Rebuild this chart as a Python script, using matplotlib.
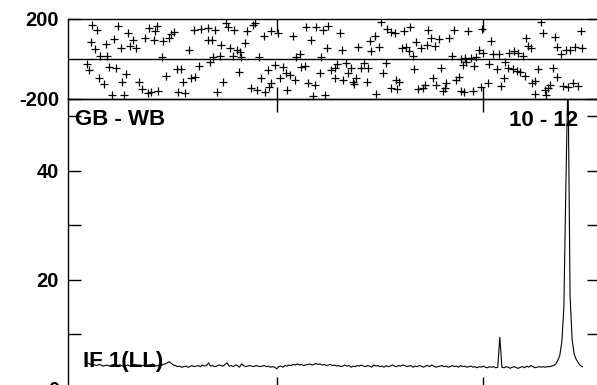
import matplotlib
matplotlib.use("Agg")
import matplotlib.pyplot as plt
import numpy as np

plt.rcParams["font.family"] = ["Liberation Sans", "DejaVu Sans"]
plt.rcParams["font.weight"] = "bold"
plt.rcParams["axes.unicode_minus"] = False

# phase points (channel, degrees)
phase_chan = [
    10.6, 13.2, 23.2, 28.0, 38.2, 42.2, 41.3, 50.3, 49.0, 60.0, 63.2, 10.3, 11.9, 17.2, 21.3, 24.5,
    30.5, 28.9, 32.1, 36.1, 40.6, 45.0, 47.7, 14.3, 18.0, 44.6, 57.4, 8.3, 9.0, 18.7, 22.4, 27.2,
    13.9, 16.4, 25.1, 33.2, 34.8, 37.7, 39.3, 42.6, 20.3, 26.1, 46.6, 51.9, 53.8, 54.7, 58.4, 60.3,
    62.4, 52.2, 55.5,
    66.8, 70.0, 75.6, 76.4, 79.3, 85.8, 88.5, 89.4, 93.9, 97.1, 100.6, 107.9, 114.3, 119.2, 122.4,
    124.8, 66.8, 68.7, 73.2, 77.3, 80.9, 84.5, 82.1, 116.5, 124.5, 69.2, 72.4, 78.9, 82.9, 91.3,
    109.2, 111.1, 121.6, 67.6, 81.6, 74.0, 71.3, 95.8, 99.3, 103.1, 104.7, 92.6, 101.5, 106.3,
    108.7, 97.4, 96.1, 87.7, 90.6, 94.2, 105.1, 111.6, 113.6, 120.8, 115.2, 118.4, 117.6, 123.2,
    126.4,
    130.5, 150.6, 153.5, 155.2, 157.1, 161.6, 164.4, 173.2, 185.8, 147.4, 145.0, 174.8, 178.6,
    183.3, 167.6, 169.7, 172.8, 176.5, 131.6, 139.4, 145.8, 149.5, 160.7, 162.7, 164.0, 166.0,
    184.9, 128.1, 129.3, 133.7, 135.8, 142.3, 141.0, 144.2, 153.1, 128.4, 132.1, 134.5, 136.9,
    138.5, 137.4, 143.9, 151.5, 166.5, 179.7, 175.7, 157.9, 159.1, 155.5, 158.4, 148.2, 168.4,
    170.8, 171.9, 177.3, 182.1, 181.3, 180.5, 186.9, 188.1, 189.1,
    192.6, 199.4, 203.6, 228.1, 228.9, 220.8, 234.9, 247.1, 221.6, 222.9, 235.8, 240.2, 241.8,
    244.5, 247.8, 237.8, 197.8, 199.9, 204.7, 207.5, 212.3, 214.9, 216.8, 219.2, 196.6, 194.2,
    191.3, 189.4, 191.8, 190.2, 195.5, 202.6, 210.4, 206.8, 212.0, 214.4, 216.5, 217.6, 220.3,
    226.5, 233.7, 235.8, 210.0, 208.7, 202.3, 198.7, 195.0, 190.7, 225.2, 223.6, 232.1, 231.3,
    230.0, 224.9, 230.5, 238.6, 241.0, 243.4, 245.8,
]
phase_deg = [
    170, 145, 165, 131, 156, 166, 140, 136, 123, 145, 148, 86, 50, 74, 100, 54,
    94, 65, 56, 106, 94, 90, 106, 14, 14, 9, 44, -27, -55, -38, -43, -76,
    -96, -125, -113, -116, -150, -171, -163, -160, -180, -180, -85, -50, -50, -116, -93, -91,
    -33, -166, -171,
    156, 145, 178, 161, 145, 140, 170, 178, 116, 141, 128, 116, 161, 158, 145,
    166, 95, 95, 70, 54, 45, 78, 36, 95, 56, 12, 16, 16, 12, 8,
    12, 24, 12, -16, -63, -116, -166, -55, -30, -38, -71, -96, -96, -80,
    -105, -121, -138, -146, -155, -166, -155, -38, -33, -71, -121, -130, -183, -180,
    -55,
    128, 183, 148, 136, 128, 140, 158, 145, 145, 115, 90, 103, 98,
    106, 86, 54, 70, 66, 45, 61, 40, 58, 54, 61, 40, 16,
    16, -46, -26, -21, -43, -21, -46, -46, -18, -93, -105, -71, -113,
    -96, -126, -113, -71, -51, -46, -93, -105, -113, -146, -150, -176, -150,
    -143, -130, -130, -121, -143, -160, -105, -88, -160,
    140, 150, 90, 183, 128, 106, 111, 140, 66, 56, 61, 45, 45,
    61, 56, 24, 45, 28, 24, 24, 28, 40, 28, 16, 12, 6,
    4, 0, -13, -30, -33, -26, -13, -50, -43, -50, -60, -66, -83,
    -50, -43, -88, -93, -133, -121, -138, -160, -163, -110, -121, -130, -143,
    -155, -176, -180, -133, -138, -121, -133,
]

# amplitude spectrum, channels 8..248
amp_first_chan = 8
amplitude = [
    4.8, 4.7, 4.5, 4.6, 4.4, 4.3, 4.5, 4.4, 4.2, 4.3, 4.4, 4.2, 4.3, 4.5, 4.3, 4.2, 4.4, 4.3, 4.1, 4.3,
    4.4, 4.2, 4.3, 4.5, 4.4, 4.2, 4.1, 4.3, 4.4, 4.2, 4.3, 4.4, 4.6, 4.3, 4.2, 4.4, 4.3, 4.5, 4.6, 4.8,
    5.0, 4.7, 4.4, 4.3, 4.1, 4.2, 4.0, 4.1, 4.2, 4.0, 4.1, 4.3, 4.1, 4.2, 4.3, 4.1, 4.4, 4.2, 4.3, 4.8,
    4.2, 4.3, 4.1, 4.2, 4.4, 4.3, 4.2, 4.5, 4.8, 4.2, 4.3, 4.1, 4.4, 4.3, 4.0, 4.6, 4.3, 4.1, 4.2, 4.3,
    4.2, 4.1, 4.3, 4.2, 4.1, 4.2, 4.3, 4.1, 4.2, 4.0, 4.1, 4.0, 3.7, 4.1, 4.2, 4.0, 4.3, 4.2, 4.4, 4.3,
    4.5, 4.4, 4.6, 4.4, 4.5, 4.3, 4.4, 4.5, 4.6, 4.4, 4.5, 4.7, 4.5, 4.6, 4.4, 4.5, 4.3, 4.4, 4.5, 4.3,
    4.4, 4.2, 4.3, 4.1, 4.2, 4.4, 4.2, 4.3, 4.0, 4.2, 4.1, 4.3, 4.2, 4.4, 4.2, 4.1, 4.3, 4.2, 4.0, 4.4,
    4.2, 4.3, 4.1, 4.2, 4.0, 4.3, 4.1, 4.2, 4.4, 4.2, 4.1, 4.3, 4.2, 4.4, 4.3, 4.1, 4.2, 4.3, 4.0, 4.2,
    4.1, 4.3, 4.2, 4.0, 4.2, 4.3, 4.1, 4.4, 4.2, 4.0, 4.1, 4.2, 4.3, 4.1, 4.2, 4.0, 4.1, 4.3, 4.1, 4.2,
    4.0, 4.3, 4.1, 4.2, 4.0, 4.1, 4.2, 4.0, 4.1, 3.9, 4.1, 4.0, 4.2, 4.0, 3.9, 4.1, 4.0, 4.1, 3.9, 4.0,
    9.5,
    4.0, 3.9, 4.1, 4.0, 3.8, 4.0, 4.1, 3.9, 3.8, 4.0, 4.1, 3.9, 4.2, 4.0, 4.3, 4.1, 3.9, 4.0, 4.1, 4.0,
    4.1, 4.0, 4.1, 4.1, 4.2, 4.3, 4.6, 5.2, 6.1, 8.6, 15.0, 38.0, 58.0, 17.0, 9.0, 6.4, 5.4, 4.8, 4.3, 4.1,
]
amp_chan = np.arange(amp_first_chan, amp_first_chan + len(amplitude))

label_left = "GB - WB"
label_right = "10 - 12"
label_if = "IF 1(LL)"

W, H = 597, 385
fig = plt.figure(figsize=(W / 100, H / 100), dpi=100)
left, right = 68 / W, 599 / W
ax1 = fig.add_axes([left, 1 - 99 / H, right - left, 80 / H])
ax2 = fig.add_axes([left, 1 - 389 / H, right - left, 290 / H])

tick_kw = dict(direction="in", length=9, width=1, color="black",
               top=True, right=True, labelsize=14.5, pad=6.5)

# phase panel
ax1.plot(phase_chan, phase_deg, linestyle="none", marker="+", color="black",
         markersize=5.5, markeredgewidth=0.9)
ax1.axhline(0, color="black", lw=1)
ax1.set_xlim(-1, 256)
ax1.set_ylim(-200, 200)
ax1.set_xticks([100, 200])
ax1.set_xticklabels([])
ax1.set_yticks([-200, 200])
ax1.set_yticklabels(["-200", "200"])
ax1.tick_params(axis="both", **tick_kw)

# amplitude panel
ax2.plot(amp_chan, amplitude, color="black", lw=0.8)
ax2.set_xlim(-1, 256)
ax2.set_ylim(0, 53.2)
ax2.set_xticks([100, 200])
ax2.set_xticklabels([])
ax2.set_yticks([0, 20, 40])
ax2.set_yticks([10, 30, 50], minor=True)
ax2.tick_params(axis="both", which="both", **tick_kw)

for ax in (ax1, ax2):
    for s in ax.spines.values():
        s.set_linewidth(1)
    ax.set_facecolor("none")

ax2.text(0.013, 0.910, label_left, transform=ax2.transAxes, fontsize=16,
         fontweight="bold", ha="left", va="baseline")
ax2.text(0.960, 0.907, label_right, transform=ax2.transAxes, fontsize=16,
         fontweight="bold", ha="right", va="baseline")
ax2.text(0.028, 0.077, label_if, transform=ax2.transAxes, fontsize=16,
         fontweight="bold", ha="left", va="baseline")

fig.savefig("out.png", dpi=100)
plt.close(fig)
